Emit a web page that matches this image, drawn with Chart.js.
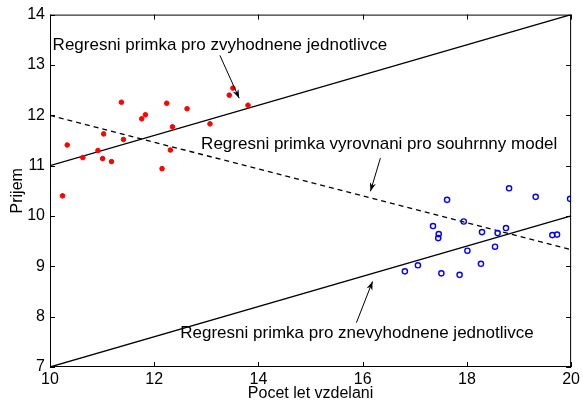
<!DOCTYPE html>
<html>
<head>
<meta charset="utf-8">
<script src="https://cdn.jsdelivr.net/npm/chart.js@4"></script>
<style>
  html, body { margin: 0; padding: 0; background: #fff; }
  #wrap { width: 583px; height: 403px; }
</style>
</head>
<body>
<div id="wrap"><canvas id="chart" width="583" height="403"></canvas></div>
<script>
// zvyhodneni (red dots)
const redX = [10.24, 10.33, 10.63, 10.92, 11.01, 11.03, 11.18, 11.37, 11.41, 11.76,
              11.83, 12.15, 12.24, 12.31, 12.35, 12.63, 13.07, 13.44, 13.51, 13.80];
const redY = [10.40, 11.41, 11.16, 11.30, 11.14, 11.63, 11.08, 12.26, 11.52, 11.93,
              12.01, 10.94, 12.24, 11.31, 11.77, 12.13, 11.83, 12.40, 12.54, 12.20];
// znevyhodneni (blue circles)
const blueX = [16.81, 17.06, 17.51, 17.86, 17.35, 17.46, 17.45, 17.62, 17.94, 18.01,
               18.27, 18.29, 18.54, 18.59, 18.75, 18.81, 19.32, 19.64, 19.73, 19.98];
const blueY = [8.90, 9.02, 8.86, 8.83, 9.80, 9.64, 9.56, 10.32, 9.89, 9.31,
               9.05, 9.68, 9.39, 9.66, 9.76, 10.55, 10.38, 9.62, 9.63, 10.34];
// regression lines, values at x = 10 and x = 20
const lineX = [10, 20];
const upperY = [11, 14];
const lowerY = [7, 10];
const pooledY = [12, 9.33];

const xTicks = [10, 12, 14, 16, 18, 20];
const yTicks = [7, 8, 9, 10, 11, 12, 13, 14];

// annotations: text anchor and arrow (from -> to), data coords
const notes = [
  { text: "Regresni primka pro zvyhodnene jednotlivce", x: 10.05, y: 13.39,
    from: [13.26, 13.19], to: [13.63, 12.34] },
  { text: "Regresni primka vyrovnani pro souhrnny model", x: 12.9, y: 11.43,
    from: [16.34, 11.15], to: [16.15, 10.49] },
  { text: "Regresni primka pro znevyhodnene jednotlivce", x: 12.5, y: 7.67,
    from: [15.88, 7.88], to: [16.19, 8.70] }
];

const FONT = "'Liberation Sans', Arial, sans-serif";
const pts = (xs, ys) => xs.map((x, i) => ({ x: x, y: ys[i] }));

const frame = {
  id: "frame",
  afterDatasetsDraw(chart) {
    const { ctx, chartArea: a, scales: { x, y } } = chart;
    ctx.save();
    ctx.strokeStyle = "#000";
    ctx.lineWidth = 1;
    ctx.strokeRect(a.left + 0.5, a.top + 0.5, a.right - a.left - 1, a.bottom - a.top - 1);
    ctx.beginPath();
    xTicks.forEach(v => {
      const px = Math.round(x.getPixelForValue(v)) + 0.5;
      ctx.moveTo(px, a.bottom); ctx.lineTo(px, a.bottom - 5);
      ctx.moveTo(px, a.top); ctx.lineTo(px, a.top + 5);
    });
    yTicks.forEach(v => {
      const py = Math.round(y.getPixelForValue(v)) + 0.5;
      ctx.moveTo(a.left, py); ctx.lineTo(a.left + 5, py);
      ctx.moveTo(a.right, py); ctx.lineTo(a.right - 5, py);
    });
    ctx.stroke();

    ctx.fillStyle = "#000";
    ctx.font = "17px " + FONT;
    ctx.textBaseline = "middle";
    ctx.textAlign = "left";
    notes.forEach(n => {
      ctx.fillText(n.text, x.getPixelForValue(n.x), y.getPixelForValue(n.y));
      const x0 = x.getPixelForValue(n.from[0]), y0 = y.getPixelForValue(n.from[1]);
      const x1 = x.getPixelForValue(n.to[0]), y1 = y.getPixelForValue(n.to[1]);
      ctx.beginPath();
      ctx.moveTo(x0, y0); ctx.lineTo(x1, y1);
      ctx.stroke();
      const ang = Math.atan2(y1 - y0, x1 - x0);
      ctx.beginPath();
      ctx.moveTo(x1, y1);
      ctx.lineTo(x1 - 9 * Math.cos(ang - 0.35), y1 - 9 * Math.sin(ang - 0.35));
      ctx.lineTo(x1 - 6 * Math.cos(ang), y1 - 6 * Math.sin(ang));
      ctx.lineTo(x1 - 9 * Math.cos(ang + 0.35), y1 - 9 * Math.sin(ang + 0.35));
      ctx.closePath();
      ctx.fill();
    });
    ctx.restore();
  }
};

new Chart(document.getElementById("chart"), {
  type: "scatter",
  data: {
    datasets: [
      { data: pts(redX, redY), pointStyle: "circle", pointRadius: 2.3,
        backgroundColor: "#ff0000", borderColor: "#ff0000", borderWidth: 1 },
      { data: pts(blueX, blueY), pointStyle: "circle", pointRadius: 2.6,
        backgroundColor: "rgba(0,0,0,0)", borderColor: "#0000ff", borderWidth: 1.4 },
      { type: "line", data: pts(lineX, upperY), borderColor: "#000", borderWidth: 1.3,
        pointRadius: 0 },
      { type: "line", data: pts(lineX, lowerY), borderColor: "#000", borderWidth: 1.3,
        pointRadius: 0 },
      { type: "line", data: pts(lineX, pooledY), borderColor: "#000", borderWidth: 1.3,
        borderDash: [5, 4], pointRadius: 0 }
    ]
  },
  options: {
    responsive: false,
    animation: false,
    layout: { padding: { top: 14, right: 11, left: 0, bottom: 0 } },
    plugins: { legend: { display: false }, tooltip: { enabled: false } },
    scales: {
      x: {
        type: "linear", min: 10, max: 20,
        afterBuildTicks: s => { s.ticks = xTicks.map(v => ({ value: v })); },
        afterFit: s => { s.height = 36; },
        grid: { display: false, drawTicks: false }, border: { display: false },
        ticks: { color: "#000", padding: 3, font: { family: FONT, size: 16 } },
        title: { display: true, text: "Pocet let vzdelani", color: "#000", padding: 0,
                 font: { family: FONT, size: 16 } }
      },
      y: {
        type: "linear", min: 7, max: 14,
        afterBuildTicks: s => { s.ticks = yTicks.map(v => ({ value: v })); },
        afterFit: s => { s.width = 50; },
        grid: { display: false, drawTicks: false }, border: { display: false },
        ticks: { color: "#000", padding: 5, font: { family: FONT, size: 16 } },
        title: { display: true, text: "Prijem", color: "#000", padding: { top: 8, bottom: 0 },
                 font: { family: FONT, size: 16 } }
      }
    }
  },
  plugins: [frame]
});
</script>
</body>
</html>
